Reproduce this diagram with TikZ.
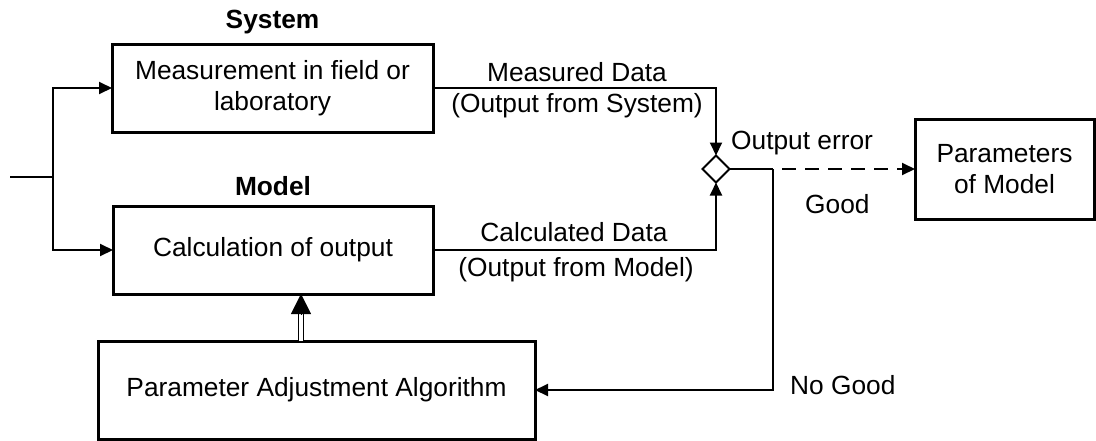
\documentclass[tikz,border=0pt]{standalone}
\usepackage{fontspec}
\setmainfont{Liberation Sans}
\usetikzlibrary{arrows.meta,shapes.geometric}

\tikzset{
  box/.style={draw, line width=3pt, inner sep=0pt, outer sep=0pt, align=center},
  conn/.style={line width=2pt, -{Triangle[length=13pt,width=12pt]}},
  plain/.style={line width=2pt},
  feed/.style={line width=1.3pt},
  dash line/.style={line width=2pt, dash pattern=on 14pt off 9pt, dash phase=14pt},
  rails/.style={double, line width=1.5pt, double distance=3.5pt},
  bigtip/.style={line width=0.5pt, -{Triangle[length=20pt,width=20pt]}},
  junction/.style={diamond, draw, line width=2pt, fill=white, inner sep=0pt, outer sep=0pt,
                   minimum width=27pt, minimum height=27pt},
  lbl/.style={inner sep=0pt},
  head/.style={inner sep=0pt, font=\fontsize{26.3}{31.5}\selectfont\bfseries}
}

\begin{document}
\begin{tikzpicture}[x=1pt, y=-1pt, font=\fontsize{26.3}{31.5}\selectfont]
\useasboundingbox (0,0) rectangle (1096,440);

% blocks
\node[box, minimum width=321pt, minimum height=88pt] (sys) at (272.5,88)
  {Measurement in field or\\laboratory};
\node[box, minimum width=320pt, minimum height=88pt] (model) at (273,250)
  {Calculation of output};
\node[box, minimum width=437pt, minimum height=98pt] (pa) at (316.5,390)
  {Parameter Adjustment Algorithm};
\node[box, minimum width=179pt, minimum height=100pt] (pm) at (1004.5,169)
  {Parameters\\of Model};
\node[junction] (err) at (716,169) {};

% block titles
\node[head] (systitle) at (272.5,22) {System};
\node[head] (modeltitle) at (273,186) {Model};

% input split
\coordinate (in) at (10,177);
\coordinate (split) at (53,177);
\draw[feed] (in) -- (split);
\draw[conn] (split) |- (sys.west);
\draw[conn] (split) |- (model.west);

% outputs into the comparison point
\draw[conn] (sys.east) -| (err.north);
\draw[conn] (model.east) -| (err.south);

% decision branches
\coordinate (branch) at (773,169);
\draw[plain] (err.east) -- (branch);
\draw[dash line] (branch) -- ([xshift=-12pt]pm.west);
\draw[conn] ([xshift=-14pt]pm.west) -- (pm.west);
\draw[conn] (branch) |- (pa.east);

% parameter update back into the model
\draw[rails] ([xshift=-15.5pt]pa.north) -- ([xshift=28pt,yshift=-19pt]model.south);
\draw[bigtip] ([xshift=28pt,yshift=-20pt]model.south) -- ([xshift=28pt]model.south);

% connector labels
\node[lbl] (md) at (577,72) {Measured Data};
\node[lbl] (mdo) at (577,106) {(Output from System)};
\node[lbl] (cd) at (574,232) {Calculated Data};
\node[lbl] (cdo) at (576,270) {(Output from Model)};
\node[lbl, anchor=west] (oe) at (731,143) {Output error};
\node[lbl, anchor=west] (good) at (805,204) {Good};
\node[lbl, anchor=west] (ng) at (790,385) {No Good};
\end{tikzpicture}
\end{document}
